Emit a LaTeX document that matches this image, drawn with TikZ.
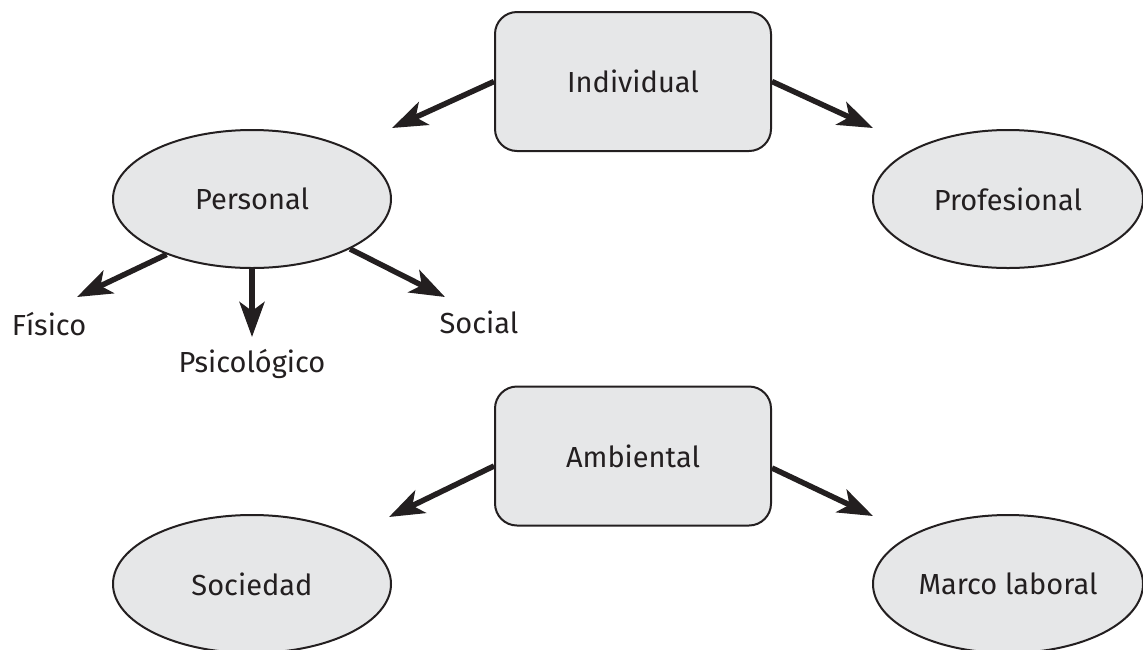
\documentclass[tikz,border=0pt]{standalone}
\usepackage{fontspec}
\setmainfont{Fira Sans}
\usetikzlibrary{arrows.meta,shapes.geometric,calc}
\definecolor{boxfill}{HTML}{E6E7E8}
\definecolor{ink}{HTML}{231F20}
\begin{document}
\begin{tikzpicture}[x=1pt,y=-1pt,
  every node/.style={text=ink, font=\fontsize{29}{34}\selectfont},
  rbox/.style={draw=ink, fill=boxfill, line width=2pt, rounded corners=22pt,
    minimum width=276pt, minimum height=139pt, inner sep=0pt},
  ell/.style={ellipse, draw=ink, fill=boxfill, line width=2pt,
    minimum width=278pt, minimum height=138pt, inner sep=0pt},
  lbl/.style={anchor=base, inner sep=0pt},
  arr/.style={draw=ink, line width=5.5pt,
    -{Stealth[length=35pt, width=25pt, inset=9pt]}}]
\useasboundingbox (0,0) rectangle (1143,649);

% nodes
\node[rbox] (ind) at (633,81.5) {Individual};
\node[rbox] (amb) at (633,456) {Ambiental};
\node[ell] (per) at (252,199) {Personal};
\node[ell, minimum width=270pt] (pro) at (1008,199) {Profesional};
\node[ell] (soc) at (252,584) {Sociedad};
\node[ell, minimum width=270pt] (mar) at (1008,584) {Marco laboral};

\node[lbl] (fis) at (49,335) {Físico};
\node[lbl] (psi) at (252,372) {Psicológico};
\node[lbl] (sol) at (479,333) {Social};

% arrow tips
\coordinate (t1) at (392,128);
\coordinate (t2) at (873,128);
\coordinate (t3) at (389,517);
\coordinate (t4) at (873,516);
\coordinate (t5) at (77,297);
\coordinate (t6) at (252,337);
\coordinate (t7) at (445,297);

% connectors
\draw[arr] (ind.west) -- (t1);
\draw[arr] (ind.east) -- (t2);
\draw[arr] ($(amb.west)+(0,10)$) -- (t3);
\draw[arr] ($(amb.east)+(0,12)$) -- (t4);
\draw[arr] (per.213) -- (t5);
\draw[arr] (per.south) -- (t6);
\draw[arr] (per.333) -- (t7);
\end{tikzpicture}
\end{document}
